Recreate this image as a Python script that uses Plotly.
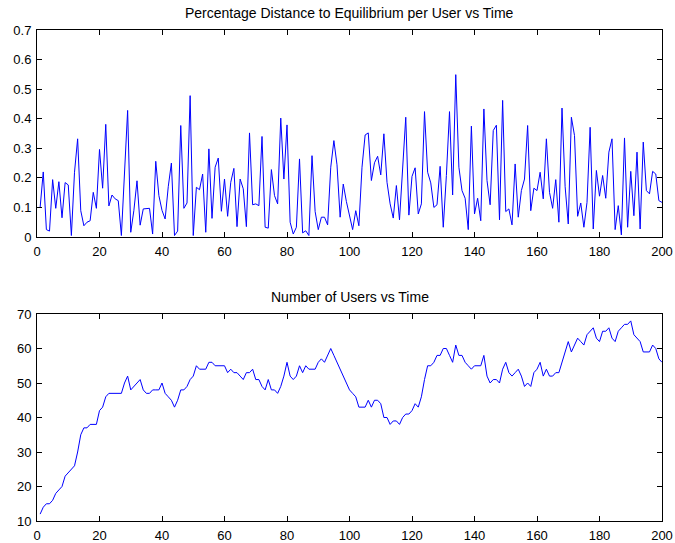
import plotly.graph_objects as go

time_top = list(range(1, 201))
distance = [
0.10,0.22,0.025,0.02,0.194,0.097,0.187,0.065,0.184,0.176,
0.005,0.219,0.332,0.089,0.038,0.05,0.055,0.151,0.097,0.296,
0.165,0.381,0.105,0.142,0.129,0.123,0.005,0.22,0.428,0.016,
0.09,0.19,0.04,0.095,0.095,0.097,0.01,0.256,0.14,0.09,
0.061,0.17,0.25,0.005,0.02,0.377,0.097,0.115,0.478,0.005,
0.168,0.16,0.213,0.016,0.298,0.063,0.236,0.267,0.087,0.196,
0.07,0.185,0.232,0.035,0.196,0.163,0.035,0.352,0.109,0.112,
0.106,0.34,0.033,0.03,0.228,0.14,0.112,0.402,0.196,0.379,
0.05,0.01,0.033,0.264,0.014,0.021,0.005,0.275,0.086,0.025,
0.067,0.067,0.041,0.236,0.326,0.244,0.067,0.179,0.12,0.07,
0.025,0.089,0.038,0.236,0.345,0.352,0.191,0.251,0.273,0.21,
0.349,0.185,0.112,0.064,0.174,0.058,0.219,0.405,0.074,0.205,
0.234,0.078,0.112,0.424,0.219,0.183,0.1,0.109,0.239,0.033,
0.208,0.424,0.142,0.549,0.236,0.157,0.131,0.025,0.375,0.078,
0.131,0.055,0.433,0.191,0.109,0.36,0.378,0.058,0.462,0.086,
0.095,0.041,0.247,0.067,0.157,0.196,0.377,0.089,0.165,0.157,
0.219,0.129,0.332,0.151,0.097,0.194,0.05,0.436,0.17,0.044,
0.405,0.343,0.07,0.115,0.033,0.117,0.371,0.027,0.225,0.138,
0.208,0.131,0.287,0.332,0.025,0.106,0.007,0.335,0.033,0.222,
0.072,0.287,0.027,0.321,0.157,0.146,0.222,0.213,0.123,0.117,
]

time_bottom = list(range(1, 201))
users = [
12,14,15,15,16,18,19,20,23,24,
25,26,30,35,37,37,38,38,38,42,
43,46,47,47,47,47,47,50,52,48,
49,50,51,48,47,47,48,48,48,50,
47,46,45,43,45,48,48,49,51,52,
55,54,54,54,56,56,55,55,55,55,
53,54,53,53,52,51,53,53,54,51,
51,49,48,51,48,48,47,49,52,56,
52,51,52,55,53,55,54,54,54,56,
57,56,58,60,58,56,54,52,50,48,
47,46,43,43,43,45,43,45,45,44,
40,40,38,39,39,38,40,41,41,42,
44,43,46,51,55,55,56,58,58,60,
60,58,56,61,58,58,56,55,54,55,
55,55,58,52,50,51,51,50,54,56,
53,52,53,54,52,49,50,49,53,54,
56,52,54,52,52,53,53,56,59,62,
59,61,63,62,61,64,65,66,63,62,
65,65,66,63,62,65,66,67,67,68,
64,63,62,59,59,59,61,60,57,56,
]

top_title = "Percentage Distance to Equilibrium per User vs Time"
bottom_title = "Number of Users vs Time"
x_ticks = [0, 20, 40, 60, 80, 100, 120, 140, 160, 180, 200]
top_y_ticks = [0, 0.1, 0.2, 0.3, 0.4, 0.5, 0.6, 0.7]
top_y_labels = ["0", "0.1", "0.2", "0.3", "0.4", "0.5", "0.6", "0.7"]
bottom_y_ticks = [10, 20, 30, 40, 50, 60, 70]

fig = go.Figure()
fig.add_trace(go.Scatter(x=time_top, y=distance, mode="lines",
                         line=dict(color="#0000ff", width=1), xaxis="x", yaxis="y",
                         showlegend=False))
fig.add_trace(go.Scatter(x=time_bottom, y=users, mode="lines",
                         line=dict(color="#0000ff", width=1), xaxis="x2", yaxis="y2",
                         showlegend=False))

W, H = 675, 543
ml, mr, mt, mb = 37, 13, 30, 22
ph = H - mt - mb
top_dom = [(521 - 237) / ph, 1.0]
bot_dom = [0.0, (521 - 314) / ph]

FONT = "Liberation Sans, Arial, Helvetica"
axis_common = dict(showline=True, linecolor="black", linewidth=1, mirror="ticks",
                   ticks="inside", ticklen=5, tickcolor="black", tickwidth=1,
                   showgrid=False, zeroline=False, automargin=False,
                   tickfont=dict(family=FONT, size=13, color="black"))

fig.update_layout(
    width=W, height=H, autosize=False,
    margin=dict(l=ml, r=mr, t=mt, b=mb, pad=0),
    paper_bgcolor="white", plot_bgcolor="white",
    xaxis=dict(domain=[0, 1], range=[0, 200], tickvals=x_ticks, anchor="y",
               ticklabelstandoff=2, **axis_common),
    yaxis=dict(domain=top_dom, range=[0, 0.7], tickvals=top_y_ticks, ticktext=top_y_labels,
               anchor="x", ticklabelstandoff=2, **axis_common),
    xaxis2=dict(domain=[0, 1], range=[0, 200], tickvals=x_ticks, anchor="y2",
                ticklabelstandoff=2, **axis_common),
    yaxis2=dict(domain=bot_dom, range=[10, 70], tickvals=bottom_y_ticks, anchor="x2",
                ticklabelstandoff=2, **axis_common),
    annotations=[
        dict(text=top_title, x=0.5, y=top_dom[1], xref="paper", yref="paper",
             xanchor="center", yanchor="bottom", yshift=7, showarrow=False,
             font=dict(family=FONT, size=14, color="black")),
        dict(text=bottom_title, x=0.5, y=bot_dom[1], xref="paper", yref="paper",
             xanchor="center", yanchor="bottom", yshift=7, showarrow=False,
             font=dict(family=FONT, size=14, color="black")),
    ],
)

fig.write_html("out.html", config={"displayModeBar": False})
